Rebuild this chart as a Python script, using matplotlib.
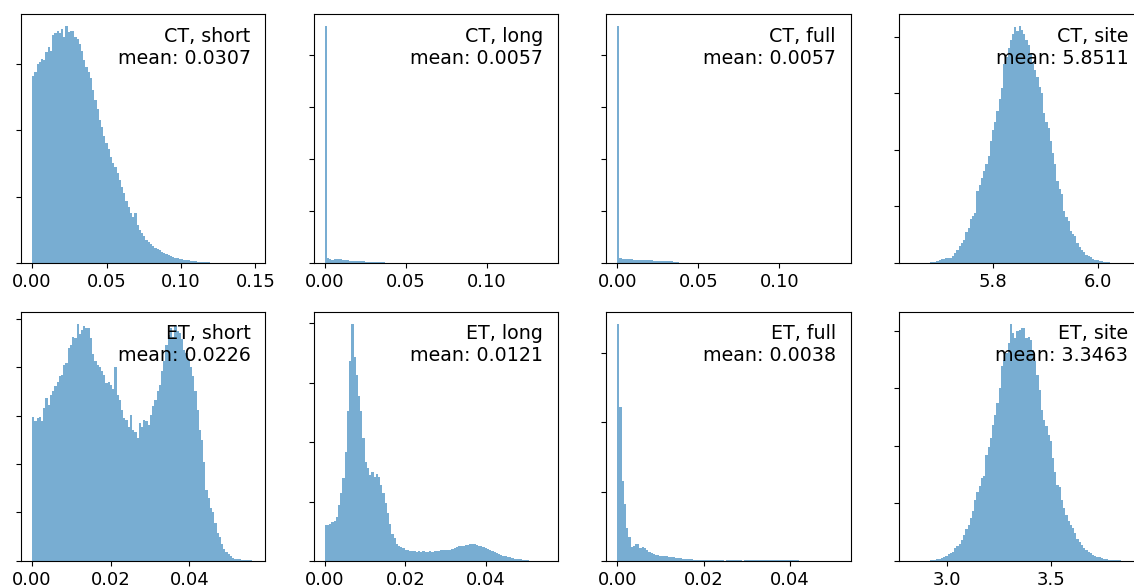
import numpy as np
import matplotlib
matplotlib.use("Agg")
import matplotlib.pyplot as plt
from matplotlib.ticker import MultipleLocator, NullFormatter

# bin heights, in thousands of samples, 100 bins per panel
ct_short = [2.82, 2.88, 3.00, 3.02, 3.08, 3.05, 3.18, 3.25, 3.20, 3.43,
            3.46, 3.50, 3.46, 3.53, 3.40, 3.57, 3.48, 3.49, 3.50, 3.40,
            3.38, 3.30, 3.20, 3.05, 2.95, 2.88, 2.78, 2.60, 2.45, 2.32,
            2.15, 2.05, 1.92, 1.80, 1.72, 1.60, 1.50, 1.44, 1.35, 1.25,
            1.14, 1.05, 0.94, 0.84, 0.75, 0.70, 0.75, 0.58, 0.50, 0.45,
            0.40, 0.35, 0.32, 0.28, 0.25, 0.22, 0.21, 0.19, 0.17, 0.15,
            0.13, 0.12, 0.10, 0.09, 0.08, 0.07, 0.06, 0.055, 0.05, 0.045,
            0.04, 0.035, 0.03, 0.025, 0.02, 0.018, 0.015, 0.012, 0.01, 0.008,
            0.006, 0.005, 0.004, 0.003, 0.003, 0.002, 0.002, 0.001, 0.001, 0.001,
            0.001, 0.0005, 0.0005, 0.0005, 0.0003, 0.0003, 0.0002, 0.0002, 0.0001, 0.0001]
ct_long = [4.56, 0.10, 0.08, 0.06, 0.07, 0.07, 0.07, 0.07, 0.065, 0.06,
           0.06, 0.035, 0.03, 0.03, 0.03, 0.03, 0.03, 0.03, 0.025, 0.025,
           0.025, 0.02, 0.02, 0.02, 0.01, 0.01, 0.01, 0.008, 0.004, 0.002,
           0.001, 0.001, 0.001, 0, 0, 0, 0, 0, 0, 0,
           0, 0, 0, 0, 0, 0, 0, 0, 0, 0,
           0, 0, 0, 0, 0, 0, 0, 0, 0, 0,
           0, 0, 0, 0, 0, 0, 0, 0, 0, 0,
           0, 0, 0, 0, 0, 0, 0, 0, 0, 0,
           0, 0, 0, 0, 0, 0, 0, 0, 0, 0,
           0, 0, 0, 0, 0, 0, 0, 0, 0, 0.0005]
ct_full = [4.56, 0.09, 0.08, 0.07, 0.07, 0.07, 0.07, 0.05, 0.05, 0.05,
           0.05, 0.05, 0.05, 0.05, 0.05, 0.05, 0.03, 0.03, 0.03, 0.03,
           0.03, 0.03, 0.03, 0.03, 0.03, 0.02, 0.02, 0.02, 0.005, 0.002,
           0.001, 0.001, 0, 0, 0, 0, 0, 0, 0, 0,
           0, 0, 0, 0, 0, 0, 0, 0, 0, 0,
           0, 0, 0, 0, 0, 0, 0, 0, 0, 0,
           0, 0, 0, 0, 0, 0, 0, 0, 0, 0,
           0, 0, 0, 0, 0, 0, 0, 0, 0, 0,
           0, 0, 0, 0, 0, 0, 0, 0, 0, 0,
           0, 0, 0, 0, 0, 0, 0, 0, 0, 0.0005]
ct_site = [0.001, 0, 0, 0.001, 0.002, 0.003, 0.004, 0.006, 0.008, 0.01,
           0.012, 0.02, 0.03, 0.05, 0.07, 0.07, 0.08, 0.08, 0.09, 0.13,
           0.17, 0.23, 0.30, 0.35, 0.40, 0.55, 0.62, 0.78, 0.83, 0.89,
           1.28, 1.38, 1.50, 1.63, 1.75, 1.90, 2.16, 2.35, 2.50, 2.69,
           2.90, 3.10, 3.51, 3.65, 3.80, 3.95, 4.05, 4.18, 4.10, 4.19,
           4.12, 4.04, 3.95, 3.85, 3.69, 3.55, 3.42, 3.28, 3.12, 3.00,
           2.66, 2.50, 2.39, 2.16, 1.95, 1.75, 1.45, 1.30, 1.22, 0.92,
           0.82, 0.75, 0.57, 0.52, 0.48, 0.36, 0.28, 0.23, 0.19, 0.15,
           0.13, 0.10, 0.07, 0.06, 0.05, 0.04, 0.03, 0.02, 0.015, 0.01,
           0.008, 0.006, 0.004, 0.003, 0.002, 0.002, 0.001, 0.001, 0, 0.001]
et_short = [2.96, 2.89, 2.94, 2.96, 2.89, 3.15, 3.36, 3.22, 3.43, 3.50,
            3.60, 3.70, 3.81, 3.84, 4.05, 4.08, 4.39, 4.46, 4.63, 4.60,
            4.89, 4.68, 4.77, 4.84, 4.81, 4.81, 4.60, 4.26, 4.12, 4.05,
            4.01, 3.91, 3.84, 3.67, 3.70, 3.63, 3.55, 4.00, 3.43, 3.32,
            3.12, 2.94, 2.90, 2.77, 3.01, 2.70, 2.67, 2.53, 2.84, 2.77,
            2.91, 2.88, 2.81, 3.01, 3.19, 3.32, 3.50, 3.63, 3.91, 4.12,
            4.46, 4.67, 4.81, 4.63, 4.84, 4.74, 4.70, 4.57, 4.36, 4.30,
            4.15, 4.00, 3.81, 3.50, 3.12, 2.70, 2.50, 2.05, 1.46, 1.29,
            1.10, 1.01, 0.78, 0.57, 0.50, 0.36, 0.25, 0.19, 0.14, 0.10,
            0.06, 0.05, 0.04, 0.035, 0.025, 0.02, 0.02, 0.015, 0.01, 0.005]
et_long = [0.60, 0.60, 0.63, 0.66, 0.67, 0.74, 0.94, 1.14, 1.39, 1.84,
           2.52, 3.36, 3.99, 3.44, 3.13, 2.77, 2.52, 2.07, 1.67, 1.56,
           1.45, 1.50, 1.42, 1.47, 1.42, 1.28, 1.14, 0.97, 0.80, 0.63,
           0.46, 0.38, 0.29, 0.26, 0.24, 0.21, 0.19, 0.18, 0.17, 0.17,
           0.16, 0.15, 0.16, 0.15, 0.16, 0.15, 0.15, 0.16, 0.15, 0.16,
           0.17, 0.17, 0.18, 0.18, 0.18, 0.18, 0.19, 0.20, 0.22, 0.23,
           0.25, 0.26, 0.26, 0.27, 0.27, 0.28, 0.28, 0.28, 0.27, 0.26,
           0.25, 0.24, 0.22, 0.20, 0.18, 0.17, 0.15, 0.13, 0.12, 0.10,
           0.09, 0.08, 0.07, 0.06, 0.05, 0.04, 0.04, 0.03, 0.03, 0.02,
           0.01, 0.008, 0.006, 0.005, 0.004, 0.003, 0.002, 0.002, 0.001, 0.001]
et_full = [3.42, 2.22, 1.15, 0.82, 0.47, 0.35, 0.20, 0.22, 0.25, 0.25,
           0.19, 0.20, 0.18, 0.155, 0.13, 0.12, 0.105, 0.09, 0.08, 0.07,
           0.07, 0.065, 0.065, 0.058, 0.055, 0.05, 0.048, 0.045, 0.04, 0.035,
           0.03, 0.025, 0.025, 0.022, 0.02, 0.02, 0.02, 0.018, 0.018, 0.015,
           0.015, 0.015, 0.012, 0.012, 0.012, 0.01, 0.01, 0.01, 0, 0.01,
           0.01, 0.01, 0.01, 0.008, 0.01, 0.01, 0, 0.01, 0.01, 0.01,
           0.01, 0.01, 0.01, 0.01, 0.01, 0.01, 0.01, 0.01, 0.01, 0.01,
           0.01, 0.01, 0.01, 0.01, 0.01, 0.01, 0.01, 0.01, 0.01, 0.01,
           0.01, 0.008, 0.006, 0, 0, 0, 0, 0, 0, 0,
           0, 0, 0, 0, 0, 0, 0, 0, 0, 0.001]
et_site = [0.001, 0, 0.001, 0.001, 0.002, 0.002, 0.003, 0.005, 0.006, 0.008,
           0.012, 0.02, 0.03, 0.04, 0.05, 0.065, 0.08, 0.12, 0.14, 0.16,
           0.22, 0.26, 0.30, 0.37, 0.45, 0.55, 0.63, 0.75, 0.86, 1.06,
           1.20, 1.30, 1.44, 1.47, 1.84, 1.98, 2.13, 2.37, 2.54, 2.74,
           3.00, 3.38, 3.50, 3.62, 3.78, 4.12, 3.96, 3.87, 3.99, 4.02,
           4.05, 4.05, 3.87, 3.90, 3.84, 3.67, 3.47, 3.23, 2.97, 2.63,
           2.45, 2.35, 2.19, 2.08, 1.79, 1.55, 1.32, 1.29, 1.06, 0.92,
           0.80, 0.70, 0.63, 0.57, 0.48, 0.39, 0.33, 0.27, 0.22, 0.19,
           0.16, 0.13, 0.11, 0.09, 0.075, 0.06, 0.05, 0.04, 0.03, 0.02,
           0.018, 0.015, 0.012, 0.01, 0.008, 0.007, 0.006, 0.005, 0.003, 0.002]

# data range (min, max) of each sample
ranges = [(0.0, 0.1492), (0.0, 0.1368), (0.0, 0.1370), (5.640, 6.066),
          (0.0, 0.0565), (0.0, 0.0551), (0.0, 0.0514), (2.8205, 3.891)]
titles = ["CT, short", "CT, long", "CT, full", "CT, site",
          "ET, short", "ET, long", "ET, full", "ET, site"]
means = [0.0307, 0.0057, 0.0057, 5.8511, 0.0226, 0.0121, 0.0038, 3.3463]
xsteps = [0.05, 0.05, 0.05, 0.2, 0.02, 0.02, 0.02, 0.5]

series = [ct_short, ct_long, ct_full, ct_site, et_short, et_long, et_full, et_site]

fig, axes = plt.subplots(2, 4, figsize=(11.34, 5.88), dpi=100)
fig.subplots_adjust(left=0.0185, right=1.008, bottom=0.046, top=0.976,
                    wspace=0.197, hspace=0.197)

for ax, h, (lo, hi), title, m, step in zip(axes.flat, series, ranges, titles, means, xsteps):
    edges = np.linspace(lo, hi, len(h) + 1)
    counts = np.array(h) * 1000
    ax.hist(edges[:-1], bins=edges, weights=counts, color="tab:blue", alpha=0.6)
    ax.xaxis.set_major_locator(MultipleLocator(step))
    ax.yaxis.set_major_locator(MultipleLocator(1000))
    ax.yaxis.set_major_formatter(NullFormatter())
    ax.tick_params(axis="x", labelsize=13)
    ax.text(0.94, 0.95, f"{title}\nmean: {m:.4f}", transform=ax.transAxes,
            ha="right", va="top", multialignment="right", fontsize=13.7)

fig.savefig("out.png", dpi=100)
